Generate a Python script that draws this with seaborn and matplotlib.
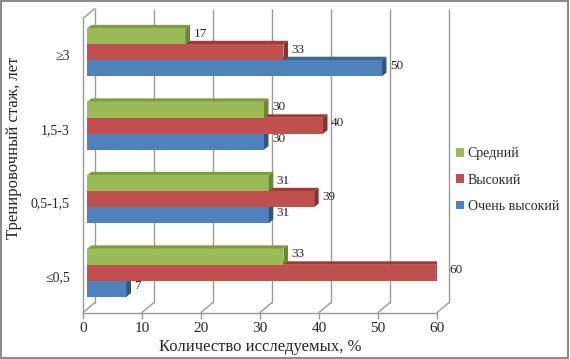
import numpy as np
import pandas as pd
import seaborn as sns
import matplotlib.pyplot as plt
import matplotlib.transforms as mtransforms
from matplotlib.patches import Polygon, Patch, Rectangle

# data (labels show rounded values)
categories = ["≥3", "1,5-3", "0,5-1,5", "≤0,5"]
series = ["Средний", "Высокий", "Очень высокий"]
sredniy = [16.7, 30, 30.8, 33.3]
vysokiy = [33.3, 40, 38.5, 60]
ochen_vysokiy = [50, 30, 30.8, 6.7]
xticks = [0, 10, 20, 30, 40, 50, 60]

front_colors = ["#9BBB59", "#C0504D", "#4F81BD"]
top_colors = ["#7E9D3F", "#9E3B38", "#3B6796"]
side_colors = ["#6A8733", "#8A302E", "#2F5784"]
grid_col = "#9a9a9a"

df = pd.DataFrame({
    "cat": categories * 3,
    "series": np.repeat(series, len(categories)),
    "value": sredniy + vysokiy + ochen_vysokiy,
})

sns.set_style("white")
plt.rcParams["font.family"] = ["Liberation Serif", "DejaVu Serif"]

fig = plt.figure(figsize=(5.7, 3.59), dpi=100)
ax = fig.add_axes([83 / 570, 46.5 / 359, 354 / 570, 294 / 359])

sns.barplot(data=df, x="value", y="cat", hue="series", order=categories,
            hue_order=series, palette=front_colors, orient="h", width=0.65,
            saturation=1, linewidth=0, legend=False, ax=ax)
ax.set_xlim(0, 60)
ax.set_ylim(3.5, -0.5)

# pixel -> data conversion
p0 = ax.transData.transform((0, 0))
p1 = ax.transData.transform((1, 1))
ppu_x = p1[0] - p0[0]
ppu_y = p0[1] - p1[1]

# back wall / floor (3d look)
wx, wy = 12 / ppu_x, 10 / ppu_y
ax.vlines([t + wx for t in xticks], 3.5 - wy, -0.5 - wy, color=grid_col,
          lw=1, zorder=1, clip_on=False)
for t in xticks:
    ax.plot([t, t + wx], [3.5, 3.5 - wy], color=grid_col, lw=1, zorder=1, clip_on=False)
ax.plot([0, wx], [-0.5, -0.5 - wy], color=grid_col, lw=1, zorder=1, clip_on=False)

# 3d bars
shift = ax.transData + mtransforms.ScaledTranslation(4 / 100, 3 / 100, fig.dpi_scale_trans)
dx, dy = 4.5 / ppu_x, 3.5 / ppu_y
for i, cont in enumerate(ax.containers):
    base = 3 + 3 * (2 - i)
    for p in cont.patches:
        x0, x1 = p.get_x(), p.get_x() + p.get_width()
        yt, yb = p.get_y(), p.get_y() + p.get_height()
        p.set_transform(shift)
        p.set_zorder(base + 1)
        top = Polygon([(x0, yt), (x1, yt), (x1 + dx, yt - dy), (x0 + dx, yt - dy)],
                      closed=True, fc=top_colors[i], lw=0, zorder=base, transform=shift)
        side = Polygon([(x1, yt), (x1, yb), (x1 + dx, yb - dy), (x1 + dx, yt - dy)],
                       closed=True, fc=side_colors[i], lw=0, zorder=base + 1.5, transform=shift)
        ax.add_patch(top)
        ax.add_patch(side)
        ax.annotate(f"{int(p.get_width() + 0.5)}", xy=(x1, (yt + yb) / 2),
                    xytext=(12, 5.5), textcoords="offset pixels", ha="left",
                    va="center", fontsize=9.5, zorder=20)

for s in ["top", "right"]:
    ax.spines[s].set_visible(False)
for s in ["left", "bottom"]:
    ax.spines[s].set_color(grid_col)
    ax.spines[s].set_linewidth(1)
    ax.spines[s].set_zorder(1)

ax.set_xticks(xticks)
ax.tick_params(axis="x", length=4, width=1, color=grid_col, labelsize=11, pad=3,
               bottom=True, direction="out")
ax.tick_params(axis="y", length=0, labelsize=10, pad=9.5)
ax.set_xlabel("Количество исследуемых, %", fontsize=12, labelpad=3)
ax.set_ylabel("Тренировочный стаж, лет", fontsize=12)
ax.yaxis.set_label_coords(-0.172, 0.56)

handles = [Patch(fc=front_colors[i], ec="none", label=series[i]) for i in range(3)]
fig.legend(handles=handles, loc="center left", bbox_to_anchor=(456 / 570, 0.4986),
           frameon=False, fontsize=10, handlelength=0.55, handleheight=0.55,
           handletextpad=0.3, labelspacing=0.95, borderpad=0, borderaxespad=0)

fig.patches.append(Rectangle((0.002, 0.003), 0.995, 0.994, transform=fig.transFigure,
                             fill=False, ec="#8c8c8c", lw=1.5))

fig.savefig("out.png", dpi=100)
